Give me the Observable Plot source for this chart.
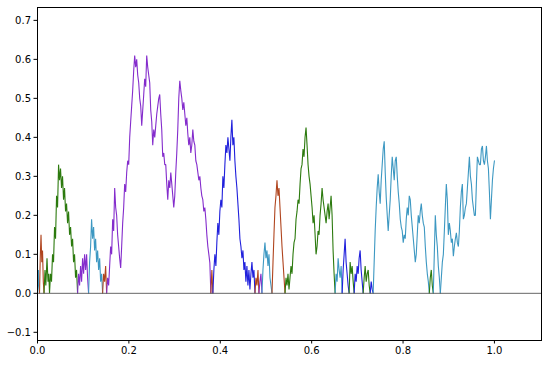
<!DOCTYPE html>
<html>
<head>
<meta charset="utf-8">
<script src="https://cdn.jsdelivr.net/npm/d3@7"></script>
<script src="https://cdn.jsdelivr.net/npm/@observablehq/plot@0.6"></script>
<style>
  html, body { margin: 0; padding: 0; background: #fff; }
  #chart svg { display: block; }
</style>
</head>
<body>
<div id="chart"></div>
<script>
// Reflected path, split into excursions away from zero: [t, value]
const exc01 = [[0,0],[0.002,0.06],[0.003,0.02],[0.0044,0]];
const exc02 = [[0.0044,0],[0.006,0.09],[0.0077,0.15],[0.0094,0.08],[0.011,0.11],[0.0127,0.03],[0.0143,0]];
const exc03 = [[0.0143,0],[0.0164,0.06],[0.0182,0.02],[0.0208,0.09],[0.023,0.03],[0.0248,0.05],[0.0263,0],
  [0.0285,0.05],[0.0307,0.03],[0.0329,0.1],[0.0351,0.08],[0.0373,0.17],[0.0395,0.14],[0.0417,0.25],[0.0439,0.22],
  [0.0461,0.33],[0.0482,0.29],[0.0504,0.32],[0.0526,0.27],[0.0548,0.3],[0.057,0.24],[0.0592,0.27],[0.0614,0.21],
  [0.0636,0.23],[0.0658,0.18],[0.068,0.21],[0.0702,0.15],[0.0724,0.17],[0.0746,0.12],[0.0768,0.14],[0.0789,0.08],
  [0.0811,0.1],[0.0833,0.04],[0.0855,0.06],[0.0877,0]];
const exc04 = [[0.0877,0],[0.0899,0.05],[0.0921,0.02],[0.0943,0.07],[0.0965,0.03],[0.0987,0.09],[0.1009,0.05],
  [0.1031,0.1],[0.1053,0.06],[0.1075,0.1],[0.1096,0.04],[0.1118,0]];
const exc05 = [[0.1118,0],[0.114,0.08],[0.1162,0.12],[0.1184,0.19],[0.1206,0.14],[0.1228,0.17],[0.125,0.11],
  [0.1272,0.14],[0.1294,0.08],[0.1316,0.11],[0.1338,0.06],[0.136,0.09],[0.1382,0.03],[0.1404,0.05],[0.1425,0]];
const exc06 = [[0.1425,0],[0.1447,0.05],[0.1469,0.03],[0.1491,0.07],[0.1513,0]];
const exc07 = [[0.1513,0],[0.1535,0.04],[0.1557,0.02],[0.1579,0.07],[0.1601,0.12],[0.1623,0.1],[0.1645,0.19],
  [0.1667,0.16],[0.1689,0.27],[0.1711,0.22],[0.1732,0.2],[0.1754,0.15],[0.1776,0.12],[0.1798,0.09],[0.182,0.065],
  [0.1842,0.12],[0.1864,0.18],[0.1886,0.22],[0.1908,0.28],[0.193,0.26],[0.1952,0.31],[0.1974,0.34],[0.1996,0.33],
  [0.2018,0.4],[0.2039,0.44],[0.2061,0.48],[0.2083,0.52],[0.2105,0.57],[0.2127,0.61],[0.2149,0.58],[0.2171,0.6],
  [0.2193,0.56],[0.2215,0.54],[0.2237,0.5],[0.2259,0.48],[0.2281,0.43],[0.2303,0.47],[0.2325,0.51],[0.2346,0.55],
  [0.2368,0.53],[0.239,0.61],[0.2412,0.58],[0.2434,0.56],[0.2456,0.54],[0.2478,0.47],[0.25,0.44],[0.2522,0.38],
  [0.2544,0.42],[0.2566,0.4],[0.2588,0.43],[0.261,0.46],[0.2632,0.48],[0.2654,0.5],[0.2675,0.51],[0.2697,0.46],
  [0.2719,0.42],[0.2741,0.35],[0.2763,0.36],[0.2785,0.33],[0.2807,0.33],[0.2829,0.28],[0.2851,0.24],[0.2873,0.29],
  [0.2895,0.27],[0.2917,0.31],[0.2939,0.28],[0.2961,0.25],[0.2982,0.22],[0.3004,0.25],[0.3026,0.31],[0.3048,0.36],
  [0.307,0.42],[0.3092,0.5],[0.3114,0.545],[0.3136,0.52],[0.3158,0.5],[0.318,0.47],[0.3202,0.49],[0.3224,0.46],
  [0.3246,0.43],[0.3268,0.45],[0.3289,0.41],[0.3311,0.38],[0.3333,0.4],[0.3355,0.36],[0.3377,0.38],[0.3399,0.42],
  [0.3421,0.39],[0.3443,0.38],[0.3465,0.34],[0.3487,0.33],[0.3509,0.31],[0.3531,0.29],[0.3553,0.3],[0.3575,0.27],
  [0.3596,0.25],[0.3618,0.24],[0.364,0.21],[0.3662,0.22],[0.3684,0.19],[0.3706,0.15],[0.3728,0.12],[0.375,0.1],
  [0.3772,0.078],[0.3794,0]];
const exc08 = [[0.3794,0],[0.3816,0.06],[0.3838,0]];
const exc09 = [[0.3838,0],[0.386,0.06],[0.3882,0.1],[0.3904,0.07],[0.3925,0.13],[0.3947,0.18],[0.3969,0.15],
  [0.3991,0.21],[0.4013,0.24],[0.4035,0.22],[0.4057,0.3],[0.4079,0.27],[0.4101,0.33],[0.4123,0.38],[0.4145,0.36],
  [0.4167,0.4],[0.4189,0.37],[0.4211,0.34],[0.4232,0.4],[0.4254,0.445],[0.4276,0.38],[0.4298,0.4],[0.432,0.34],
  [0.4342,0.3],[0.4364,0.27],[0.4386,0.23],[0.4408,0.19],[0.443,0.14],[0.4452,0.12],[0.4474,0.09],[0.4496,0.11],
  [0.4518,0.06],[0.4539,0.08],[0.4561,0.03],[0.4583,0.07],[0.4605,0.02],[0.4627,0.06],[0.4649,0.01],[0.4671,0.05],
  [0.4693,0.08],[0.4715,0.04],[0.4737,0.06],[0.4759,0]];
const exc10 = [[0.4759,0],[0.4781,0.04],[0.4803,0.02],[0.4825,0.06],[0.4846,0]];
const exc11 = [[0.4846,0],[0.4868,0.03],[0.489,0.05],[0.4912,0]];
const exc12 = [[0.4912,0],[0.4934,0.06],[0.4956,0.1],[0.4978,0.13],[0.5,0.09],[0.5022,0.11],[0.5044,0.07],
  [0.5066,0.1],[0.5088,0.04],[0.511,0.02],[0.5132,0]];
const exc13 = [[0.5132,0],[0.5154,0.08],[0.5175,0.15],[0.5197,0.22],[0.5219,0.25],[0.5241,0.29],[0.5263,0.25],
  [0.5285,0.27],[0.5307,0.22],[0.5329,0.17],[0.5351,0.12],[0.5373,0.08],[0.5395,0.04],[0.5417,0]];
const exc14 = [[0.5417,0],[0.5439,0.04],[0.5461,0.02],[0.5482,0.05],[0.5504,0.01],[0.5526,0.04],[0.5548,0.07],
  [0.557,0.05],[0.5592,0.1],[0.5614,0.13],[0.5636,0.14],[0.5658,0.19],[0.568,0.21],[0.5702,0.24],[0.5724,0.23],
  [0.5746,0.28],[0.5768,0.32],[0.5789,0.33],[0.5811,0.37],[0.5833,0.35],[0.5855,0.4],[0.5877,0.425],[0.5899,0.38],
  [0.5921,0.33],[0.5943,0.3],[0.5965,0.28],[0.5987,0.25],[0.6009,0.22],[0.6031,0.18],[0.6053,0.2],[0.6075,0.15],
  [0.6096,0.1],[0.6118,0.12],[0.614,0.16],[0.6162,0.15],[0.6184,0.2],[0.6206,0.23],[0.6228,0.27],[0.625,0.24],
  [0.6272,0.22],[0.6294,0.2],[0.6316,0.18],[0.6338,0.21],[0.636,0.23],[0.6382,0.19],[0.6404,0.22],[0.6425,0.25],
  [0.6447,0.2],[0.6469,0.11],[0.6491,0.05],[0.6513,0]];
const exc15 = [[0.6513,0],[0.6535,0.05],[0.6557,0.03],[0.6579,0.09],[0.6601,0.06],[0.6623,0.04],[0.6645,0.07],[0.6667,0]];
const exc16 = [[0.6667,0],[0.6689,0.06],[0.6711,0.1],[0.6732,0.14],[0.6754,0.08],[0.6776,0.05],[0.6798,0.02],[0.682,0]];
const exc17 = [[0.682,0],[0.6842,0.08],[0.6864,0.05],[0.6886,0.07],[0.6908,0.03],[0.693,0]];
const exc18 = [[0.693,0],[0.6952,0.05],[0.6974,0.03],[0.6996,0.07],[0.7018,0.05],[0.7039,0.09],[0.7061,0.11],
  [0.7083,0.06],[0.7105,0.03],[0.7127,0]];
const exc19 = [[0.7127,0],[0.7149,0.04],[0.7171,0.07],[0.7193,0.03],[0.7215,0.05],[0.7237,0.06],[0.7259,0.02],[0.7281,0]];
const exc20 = [[0.7281,0],[0.7303,0.03],[0.7325,0.01],[0.7346,0]];
const exc21 = [[0.7346,0],[0.7368,0.08],[0.739,0.16],[0.7412,0.22],[0.7434,0.27],[0.7456,0.305],[0.7478,0.26],
  [0.75,0.23],[0.7522,0.29],[0.7544,0.33],[0.7566,0.37],[0.7588,0.39],[0.761,0.31],[0.7632,0.245],[0.7654,0.2],
  [0.7675,0.16],[0.7697,0.2],[0.7719,0.24],[0.7741,0.3],[0.7763,0.35],[0.7785,0.32],[0.7807,0.29],[0.7829,0.34],
  [0.7851,0.35],[0.7873,0.3],[0.7895,0.26],[0.7917,0.23],[0.7939,0.19],[0.7961,0.17],[0.7982,0.16],[0.8004,0.13],
  [0.8026,0.15],[0.8048,0.14],[0.807,0.19],[0.8092,0.22],[0.8114,0.2],[0.8136,0.25],[0.8158,0.24],[0.818,0.2],
  [0.8202,0.17],[0.8224,0.14],[0.8246,0.11],[0.8268,0.08],[0.8289,0.1],[0.8311,0.15],[0.8333,0.2],[0.8355,0.18],
  [0.8377,0.21],[0.8399,0.23],[0.8421,0.2],[0.8443,0.18],[0.8465,0.17],[0.8487,0.12],[0.8509,0.08],[0.8531,0.05],
  [0.8553,0.03],[0.8575,0]];
const exc22 = [[0.8575,0],[0.8596,0.04],[0.8618,0.06],[0.864,0.02],[0.8662,0]];
const exc23 = [[0.8662,0],[0.8684,0.1],[0.8706,0.2],[0.8728,0.15],[0.875,0.12],[0.8772,0.07],[0.8794,0.04],[0.8816,0]];
const exc24 = [[0.8816,0],[0.8838,0.04],[0.886,0.08],[0.8882,0.1],[0.8904,0.16],[0.8925,0.22],[0.8947,0.28],
  [0.8969,0.24],[0.8991,0.15],[0.9013,0.18],[0.9035,0.16],[0.9057,0.13],[0.9079,0.14],[0.9101,0.095],[0.9123,0.12],
  [0.9145,0.14],[0.9167,0.155],[0.9189,0.13],[0.9211,0.12],[0.9232,0.16],[0.9254,0.22],[0.9276,0.26],[0.9298,0.28],
  [0.932,0.19],[0.9342,0.2],[0.9364,0.22],[0.9386,0.23],[0.9408,0.27],[0.943,0.31],[0.9452,0.35],[0.9474,0.3],
  [0.9496,0.28],[0.9518,0.24],[0.9539,0.22],[0.9561,0.2],[0.9583,0.2],[0.9605,0.28],[0.9627,0.35],[0.9649,0.34],
  [0.9671,0.33],[0.9693,0.33],[0.9715,0.37],[0.9737,0.378],[0.9759,0.34],[0.9781,0.33],[0.9803,0.35],[0.9825,0.378],
  [0.9846,0.34],[0.9868,0.32],[0.989,0.26],[0.9912,0.19],[0.9934,0.24],[0.9956,0.29],[0.9978,0.32],[1.0,0.34]];

const excursions = [exc01, exc02, exc03, exc04, exc05, exc06, exc07, exc08, exc09, exc10, exc11, exc12,
  exc13, exc14, exc15, exc16, exc17, exc18, exc19, exc20, exc21, exc22, exc23, exc24];
const excColors = ["cyan", "red", "green", "purple", "cyan", "red", "purple", "red", "blue", "red", "purple", "cyan",
  "red", "green", "cyan", "blue", "green", "blue", "green", "blue", "cyan", "green", "cyan", "cyan"];
const palette = { cyan: "#3d98c2", red: "#b0451f", green: "#2c7a0e", purple: "#842ccc", blue: "#2020dc" };

const xTicks = [0, 0.2, 0.4, 0.6, 0.8, 1.0];
const yTicks = [-0.1, 0, 0.1, 0.2, 0.3, 0.4, 0.5, 0.6, 0.7];
const xDomain = [0, 1.103];
const yDomain = [-0.121, 0.733];

const data = excursions.flatMap((pts, i) => pts.map(([t, v]) => ({ t, v, id: i, c: palette[excColors[i]] })));

const chart = Plot.plot({
  width: 550,
  height: 366,
  marginLeft: 37,
  marginRight: 9,
  marginTop: 7,
  marginBottom: 26,
  style: { fontFamily: "DejaVu Sans", fontSize: "10px", color: "#000", background: "#fff" },
  x: { domain: xDomain, ticks: xTicks, tickFormat: d3.format(".1f"), label: null, tickSize: 3.5, tickPadding: 3 },
  y: { domain: yDomain, ticks: yTicks, tickFormat: d3.format(".1f"), label: null, tickSize: 3.5, tickPadding: 3 },
  color: { type: "identity" },
  marks: [
    Plot.line(data, { x: "t", y: "v", z: "id", stroke: "c", strokeWidth: 1.1, strokeLinejoin: "miter" }),
    Plot.ruleY([0], { stroke: "#666", strokeWidth: 1 }),
    Plot.frame({ stroke: "#000", strokeWidth: 1 })
  ]
});
document.getElementById("chart").appendChild(chart);
</script>
</body>
</html>
